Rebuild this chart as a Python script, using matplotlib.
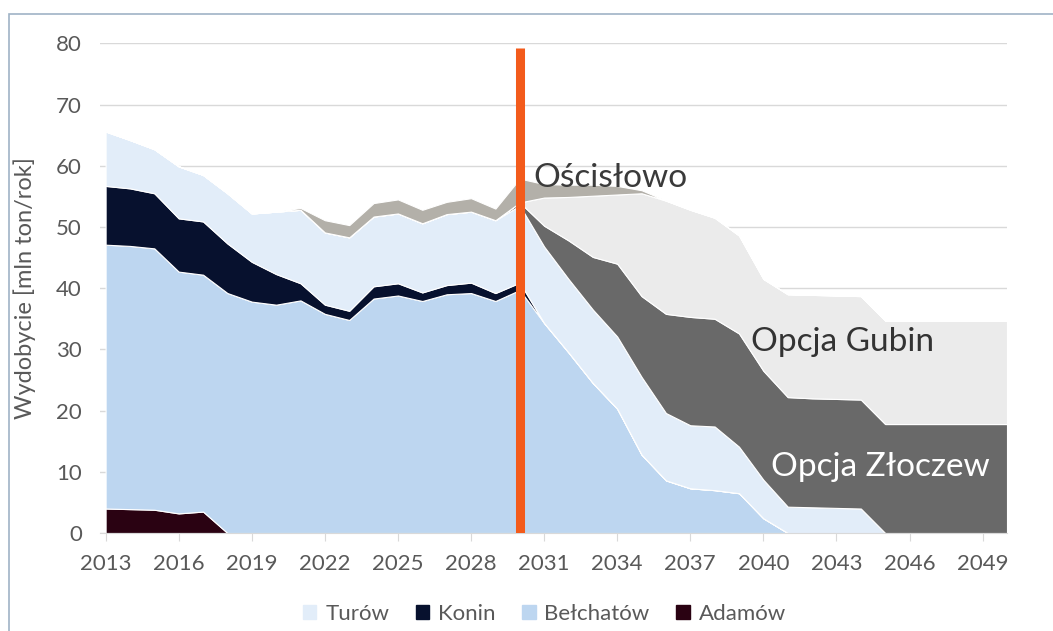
import numpy as np
import matplotlib
matplotlib.use("Agg")
import matplotlib.pyplot as plt
from matplotlib.patches import Patch, Rectangle

plt.rcParams['font.family'] = ['Lato', 'DejaVu Sans']

# yearly output per mine, mln ton/rok (stacked bottom -> top)
years = list(range(2013, 2051))

adamow = [4.0, 3.9, 3.8, 3.2, 3.5] + [0] * 33

belchatow = [43.1, 43.0, 42.7, 39.5, 38.7, 39.2, 37.8, 37.3, 38.0, 35.8,
             34.8, 38.3, 38.8, 37.9, 39.0, 39.2, 37.9, 39.7, 34.3, 29.5,
             24.5, 20.3, 12.8, 8.6, 7.3, 7.0, 6.5, 2.4] + [0] * 10

konin = [9.6, 9.4, 9.0, 8.7, 8.7, 8.1, 6.5, 5.0, 2.8, 1.5,
         1.5, 2.0, 2.0, 1.4, 1.5, 1.7, 1.3, 1.2] + [0] * 20

turow = [8.9, 7.9, 7.2, 8.5, 7.6, 8.2, 7.9, 10.2, 12.0, 11.8,
         12.0, 11.4, 11.4, 11.3, 11.6, 11.6, 11.9, 12.6, 12.5, 12.0,
         12.0, 11.8, 12.7, 11.0, 10.3, 10.4, 7.6, 6.3, 4.3, 4.2,
         4.1, 4.0] + [0] * 6

zloczew = [0] * 17 + [0.5, 3.4, 6.3, 8.6, 11.9, 13.2, 16.2, 17.7, 17.6,
                      18.5, 17.8, 17.9, 17.8, 17.8, 17.8] + [17.8] * 6

gubin = [0] * 17 + [0, 4.6, 7.1, 10.0, 11.3, 16.8, 18.5, 17.5, 16.5,
                    16.0, 15.0, 16.8, 16.9, 16.9, 16.9] + [16.9] * 6

oscislowo = [0] * 8 + [0.3, 2.0, 2.0, 2.2, 2.3, 2.2, 2.0, 2.2, 1.9, 3.9,
                       2.2, 2.0, 1.8, 1.4, 0.5] + [0] * 15

series = [adamow, belchatow, konin, turow, zloczew, gubin, oscislowo]
colors = ['#2a0212', '#bdd6f0', '#07112e', '#e2edf9', '#696969', '#ebebeb', '#b3b0a9']

fig = plt.figure(figsize=(10.53, 6.31), dpi=100)
ax = fig.add_axes([100 / 1053, 1 - 533 / 631, 907 / 1053, (533 - 43.3) / 631])

ax.stackplot(years, *series, colors=colors, edgecolor='white', linewidth=0.8)

# decision year marker
ax.vlines(2030, 0, 79.2, color='#f35b1b', linewidth=6.5, zorder=5)

ax.set_xlim(2012.77, 2050)
ax.set_ylim(0, 80)
ax.set_xticks(np.arange(2013, 2050, 3))
ax.set_yticks(np.arange(0, 81, 10))
ax.grid(axis='y', color='#d9d9d9', linewidth=1)
ax.set_axisbelow(True)

for side in ['top', 'right', 'left']:
    ax.spines[side].set_visible(False)
ax.spines['bottom'].set_color('#d9d9d9')

ax.tick_params(axis='x', length=6, color='#d9d9d9', pad=9,
               labelsize=16, labelcolor='#595959')
ax.tick_params(axis='y', length=0, pad=13, labelsize=16, labelcolor='#595959')

ax.set_ylabel('Wydobycie [mln ton/rok]', fontsize=17, color='#595959')
ax.yaxis.set_label_coords(-0.071, 0.5)

ax.text(2030.55, 58.0, 'Ościsłowo', fontsize=24, color='#3a3a3a', ha='left', va='center', zorder=6)
ax.text(2039.5, 31.2, 'Opcja Gubin', fontsize=24, color='#333333', ha='left', va='center')
ax.text(2040.3, 10.8, 'Opcja Złoczew', fontsize=24, color='white', ha='left', va='center')

handles = [Patch(color=colors[3]), Patch(color=colors[2]),
           Patch(color=colors[1]), Patch(color=colors[0])]
fig.legend(handles, ['Turów', 'Konin', 'Bełchatów', 'Adamów'],
           loc='center', bbox_to_anchor=(0.517, 1 - 614 / 631), ncol=4,
           frameon=False, fontsize=16, labelcolor='#595959',
           handlelength=0.6, handleheight=0.6, handletextpad=0.4, columnspacing=1.2)

# outer chart frame
fig.add_artist(Rectangle((9 / 1053, -0.1), 1.2, 1 - 14 / 631 + 0.1,
                         transform=fig.transFigure, fill=False,
                         edgecolor='#9fb3c6', linewidth=1.2))

fig.savefig('out.png', dpi=100)
